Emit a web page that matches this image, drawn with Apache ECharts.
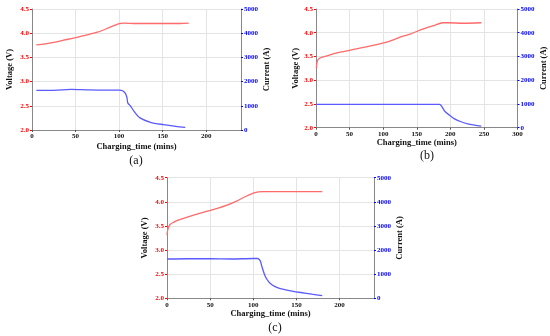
<!DOCTYPE html>
<html>
<head>
<meta charset="utf-8">
<script src="https://cdn.jsdelivr.net/npm/echarts@6/dist/echarts.min.js"></script>
<style>html,body{margin:0;padding:0;background:#fff}#c{width:550px;height:336px}</style>
</head>
<body>
<div id="c"></div>
<script>
// Panel (a)
const aVTime = [5, 15, 25, 40, 50, 62, 75, 88, 100, 105, 120, 150, 170, 180];
const aVolt  = [3.76, 3.78, 3.81, 3.87, 3.91, 3.96, 4.02, 4.11, 4.20, 4.21, 4.20, 4.20, 4.20, 4.21];
const aITime = [5, 25, 45, 65, 85, 100, 104, 107, 109, 110, 113, 117, 124, 136, 151, 165, 176];
const aCurr  = [1640, 1640, 1680, 1660, 1650, 1650, 1620, 1520, 1350, 1120, 1000, 780, 500, 320, 220, 150, 110];
// Panel (b)
const bVTime = [0.5, 1.5, 4, 8, 13, 30, 50, 75, 102, 115, 127, 140, 147, 160, 175, 189, 196, 220, 246];
const bVolt  = [3.25, 3.38, 3.45, 3.48, 3.50, 3.57, 3.63, 3.70, 3.79, 3.85, 3.92, 3.97, 4.01, 4.08, 4.15, 4.21, 4.21, 4.20, 4.21];
const bITime = [0, 50, 100, 150, 175, 184, 188, 192, 199, 207, 216, 226, 236, 246];
const bCurr  = [985, 985, 980, 980, 985, 985, 860, 680, 520, 360, 250, 160, 110, 70];
// Panel (c)
const cVTime = [0, 1, 3.5, 8, 13, 30, 48, 68, 80, 91, 102, 110, 130, 160, 180];
const cVolt  = [3.31, 3.43, 3.53, 3.58, 3.62, 3.72, 3.81, 3.92, 4.01, 4.11, 4.19, 4.21, 4.21, 4.21, 4.21];
const cITime = [0, 25, 50, 75, 100, 105, 108, 110, 114, 118, 122, 128, 134, 145, 155, 168, 180];
const cCurr  = [1630, 1640, 1640, 1630, 1650, 1650, 1560, 1320, 900, 680, 550, 440, 380, 300, 240, 170, 110];

const xTicksMax = [240, 300, 240];
const panelLabels = ['(a)', '(b)', '(c)'];

const pair = (xs, ys) => xs.map((x, i) => [x, ys[i]]);
const FONT = '"Liberation Serif", "Times New Roman", serif';

const grids = [
  {left: 32, top: 9, width: 209, height: 121},
  {left: 316, top: 9, width: 201.5, height: 118.7},
  {left: 167, top: 177.7, width: 207, height: 120.6}
];
const nameGaps = [
  {l: 18, r: 21, x: 12},
  {l: 16, r: 22, x: 11},
  {l: 18, r: 21, x: 11}
];

const xAxes = [], yAxes = [];
grids.forEach((g, i) => {
  xAxes.push({
    type: 'value', gridIndex: i, min: 0, max: xTicksMax[i], interval: 50,
    name: 'Charging_time (mins)', nameLocation: 'middle', nameGap: nameGaps[i].x,
    nameTextStyle: {fontFamily: FONT, fontWeight: 'bold', fontSize: 8.5, color: '#111'},
    axisLine: {lineStyle: {color: '#888', width: 1}},
    axisTick: {length: 2, lineStyle: {color: '#555'}},
    axisLabel: {fontFamily: FONT, fontWeight: 'bold', fontSize: 7, color: '#111', margin: 3, showMaxLabel: i === 1},
    splitLine: {show: true, lineStyle: {color: '#e4e4e4', width: 1}}
  });
  yAxes.push({
    type: 'value', gridIndex: i, min: 2.0, max: 4.5, interval: 0.5, position: 'left',
    name: 'Voltage (V)', nameLocation: 'middle', nameGap: nameGaps[i].l,
    nameTextStyle: {fontFamily: FONT, fontWeight: 'bold', fontSize: 8.5, color: '#111'},
    axisLine: {show: true, lineStyle: {color: '#888', width: 1}},
    axisTick: {show: true, length: 2, lineStyle: {color: '#ff0000'}},
    axisLabel: {fontFamily: FONT, fontWeight: 'bold', fontSize: 7, color: '#ff0000', margin: 3,
      formatter: v => v.toFixed(1)},
    splitLine: {show: true, lineStyle: {color: '#e4e4e4', width: 1}}
  });
  yAxes.push({
    type: 'value', gridIndex: i, min: 0, max: 5000, interval: 1000, position: 'right',
    name: 'Current (A)', nameLocation: 'middle', nameGap: nameGaps[i].r,
    nameTextStyle: {fontFamily: FONT, fontWeight: 'bold', fontSize: 8.5, color: '#111'},
    axisLine: {show: true, lineStyle: {color: '#888', width: 1}},
    axisTick: {show: true, length: 2, lineStyle: {color: '#0000ff'}},
    axisLabel: {fontFamily: FONT, fontWeight: 'bold', fontSize: 7, color: '#0000ff', margin: 3,
      formatter: v => String(v)},
    splitLine: {show: false}
  });
});

const vData = [pair(aVTime, aVolt), pair(bVTime, bVolt), pair(cVTime, cVolt)];
const iData = [pair(aITime, aCurr), pair(bITime, bCurr), pair(cITime, cCurr)];
const series = [];
for (let i = 0; i < 3; i++) {
  series.push({type: 'line', xAxisIndex: i, yAxisIndex: 2 * i, data: vData[i], smooth: 0.3,
    showSymbol: false, lineStyle: {color: '#ff6a6a', width: 1.3}, animation: false});
  series.push({type: 'line', xAxisIndex: i, yAxisIndex: 2 * i + 1, data: iData[i], smooth: 0.3,
    showSymbol: false, lineStyle: {color: '#5a5aff', width: 1.3}, animation: false});
}

const labelPos = [[136, 161], [427, 156], [275, 328]];
const graphic = panelLabels.map((t, i) => ({
  type: 'text', x: labelPos[i][0], y: labelPos[i][1],
  style: {text: t, fontFamily: FONT, fontSize: 12, fill: '#111', textAlign: 'center', textVerticalAlign: 'middle'}
}));

const chart = echarts.init(document.getElementById('c'), null, {renderer: 'canvas'});
chart.setOption({
  animation: false,
  backgroundColor: '#fff',
  grid: grids,
  xAxis: xAxes,
  yAxis: yAxes,
  series: series,
  graphic: graphic
});
</script>
</body>
</html>
